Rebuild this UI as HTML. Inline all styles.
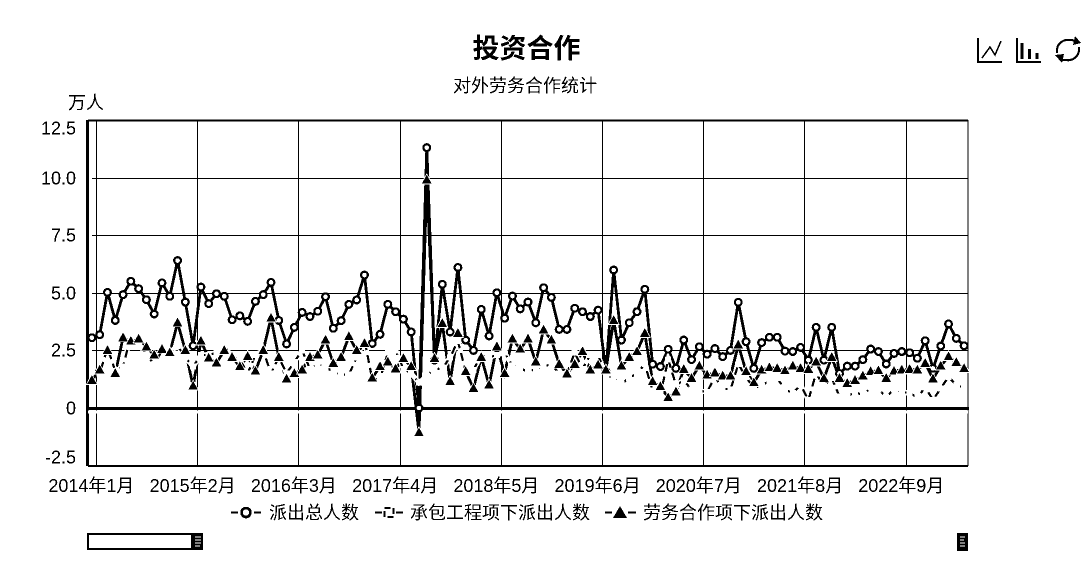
<!DOCTYPE html>
<html lang="zh">
<head>
<meta charset="utf-8">
<title>投资合作</title>
<style>
html,body{margin:0;padding:0;background:#fff;}
svg{display:block;}
text{font-family:"Liberation Sans","Noto Sans CJK SC",sans-serif;fill:#000;}
</style>
</head>
<body>
<svg id="chart" xmlns="http://www.w3.org/2000/svg" width="1091" height="563" viewBox="0 0 1091 563">
  <defs>
    <filter id="bw" filterUnits="userSpaceOnUse" x="0" y="0" width="1091" height="563" color-interpolation-filters="sRGB">
      <feComponentTransfer>
        <feFuncR type="discrete" tableValues="0 1"/>
        <feFuncG type="discrete" tableValues="0 1"/>
        <feFuncB type="discrete" tableValues="0 1"/>
      </feComponentTransfer>
    </filter>
  </defs>
  <g filter="url(#bw)">
  <rect x="0" y="0" width="1091" height="563" fill="#fff"/>
  <text x="526.500" y="58" font-size="27" font-weight="bold" text-anchor="middle">投资合作</text>
  <text x="525" y="92" font-size="18" text-anchor="middle">对外劳务合作统计</text>
  <text x="68" y="109" font-size="18">万人</text>

  <g id="plot"></g>

  <g font-size="18">
    <g>
      <path d="M231 512.5H238M254 512.5H261" stroke="#000" stroke-width="2" fill="none"/>
      <circle cx="246" cy="512.5" r="4.5" fill="#fff" stroke="#000" stroke-width="2.500"/>
      <text x="269" y="519">派出总人数</text>
    </g>
    <g>
      <path d="M375 512.5H382M396 512.5H403" stroke="#000" stroke-width="2" fill="none"/>
      <rect x="384.500" y="508" width="9" height="9" fill="#fff" stroke="#000" stroke-width="2" stroke-dasharray="6 3"/>
      <text x="410" y="519">承包工程项下派出人数</text>
    </g>
    <g>
      <path d="M605 512.5H612M628 512.5H636" stroke="#000" stroke-width="2" fill="none"/>
      <path d="M620 506L627 518H613Z" fill="#000"/>
      <text x="643" y="519">劳务合作项下派出人数</text>
    </g>
  </g>

  <g fill="none" stroke="#000" stroke-width="2">
    <g>
      <path d="M978 38V62H1002"/>
      <path d="M982 58L990 47L995 55L1001 41" stroke-width="1.500"/>
    </g>
    <g>
      <path d="M1017 38V62H1041"/>
      <path d="M1022 43V59M1029.500 49V59M1037 53V59" stroke-width="3"/>
    </g>
    <g>
      <path d="M1057 53C1056 43 1064 37 1076 41" stroke-width="2"/>
      <path d="M1079 47C1080 57 1072 63 1060 59" stroke-width="2"/>
      <path d="M1075 36L1081 43L1073 45Z" fill="#000" stroke="none"/>
      <path d="M1055 55L1064 54L1062 63Z" fill="#000" stroke="none"/>
    </g>
  </g>

  <g>
    <rect x="88" y="534" width="104" height="15" fill="#fff" stroke="#000" stroke-width="2"/>
    <rect x="192" y="533" width="11" height="17" fill="#000"/>
    <path d="M195 537H201M195 540H201M195 543H201M195 546H200" stroke="#fff" stroke-width="1.200"/>
    <rect x="957" y="533" width="11" height="18" fill="#000"/>
    <path d="M960 537H965M960 540H964M960 543H965M960 546H965" stroke="#fff" stroke-width="1.200"/>
  </g>
  </g>
</svg>
<script>
const categories = [
"2014年1月","2014年2月","2014年3月","2014年4月","2014年5月","2014年6月","2014年7月","2014年8月","2014年9月","2014年10月","2014年11月","2014年12月",
"2015年1月","2015年2月","2015年3月","2015年4月","2015年5月","2015年6月","2015年7月","2015年8月","2015年9月","2015年10月","2015年11月","2015年12月",
"2016年1月","2016年2月","2016年3月","2016年4月","2016年5月","2016年6月","2016年7月","2016年8月","2016年9月","2016年10月","2016年11月","2016年12月",
"2017年1月","2017年2月","2017年3月","2017年4月","2017年5月","2017年6月","2017年7月","2017年8月","2017年9月","2017年10月","2017年11月","2017年12月",
"2018年1月","2018年2月","2018年3月","2018年4月","2018年5月","2018年6月","2018年7月","2018年8月","2018年9月","2018年10月","2018年11月","2018年12月",
"2019年1月","2019年2月","2019年3月","2019年4月","2019年5月","2019年6月","2019年7月","2019年8月","2019年9月","2019年10月","2019年11月","2019年12月",
"2020年1月","2020年2月","2020年3月","2020年4月","2020年5月","2020年6月","2020年7月","2020年8月","2020年9月","2020年10月","2020年11月","2020年12月",
"2021年1月","2021年2月","2021年3月","2021年4月","2021年5月","2021年6月","2021年7月","2021年8月","2021年9月","2021年10月","2021年11月","2021年12月",
"2022年1月","2022年2月","2022年3月","2022年4月","2022年5月","2022年6月","2022年7月","2022年8月","2022年9月","2022年10月","2022年11月","2022年12月",
"2023年1月","2023年2月","2023年3月","2023年4月","2023年5月"];
const totalDispatched = [3.05,3.18,5.02,3.8,4.92,5.5,5.18,4.7,4.08,5.43,4.85,6.4,4.6,2.7,5.25,4.53,4.96,4.85,3.83,4.0,3.76,4.63,4.92,5.45,3.8,2.78,3.5,4.15,3.97,4.2,4.83,3.46,3.79,4.5,4.69,5.77,2.8,3.2,4.5,4.18,3.86,3.3,0.0,11.3,2.08,5.37,3.3,6.1,2.95,2.5,4.28,3.13,5.0,3.9,4.86,4.3,4.6,3.7,5.22,4.8,3.41,3.41,4.33,4.18,3.97,4.25,1.6,5.99,2.95,3.7,4.18,5.15,1.9,1.8,2.55,1.72,2.95,2.1,2.66,2.34,2.58,2.23,2.5,4.59,2.88,1.72,2.84,3.07,3.07,2.47,2.45,2.63,2.08,3.5,2.08,3.5,1.5,1.82,1.82,2.1,2.56,2.45,1.91,2.37,2.45,2.4,2.16,2.92,1.72,2.69,3.65,3.02,2.7];
const contractDispatched = [1.7,1.5,2.6,1.6,1.8,3.1,2.8,2.3,1.9,2.5,2.4,2.7,2.2,1.8,2.3,2.3,2.4,2.7,2.2,2.1,1.5,2.3,2.5,1.5,2.2,1.5,2.0,2.5,1.7,1.9,1.75,1.6,1.45,1.45,2.2,2.95,1.25,1.25,2.4,2.5,1.7,1.5,1.1,1.4,1.7,1.7,2.2,2.9,1.6,1.65,2.3,2.2,2.3,2.4,1.85,1.75,1.55,1.7,1.8,1.9,1.5,1.5,2.4,1.7,2.3,2.3,1.4,1.3,1.05,1.3,1.5,1.9,0.75,0.6,2.1,1.0,1.2,0.8,0.75,0.7,1.35,0.85,0.8,1.9,1.35,0.85,1.0,1.15,1.3,0.8,0.65,1.0,0.35,1.5,0.95,1.3,0.5,0.5,0.7,0.55,0.9,0.8,0.5,0.8,0.7,0.65,0.45,0.9,0.35,0.85,1.35,1.0,0.9];
const laborDispatched = [1.2,1.65,2.5,1.5,3.05,2.9,3.0,2.65,2.3,2.55,2.4,3.7,2.5,0.95,2.9,2.17,1.95,2.5,2.2,1.8,2.24,1.6,2.5,3.9,2.2,1.26,1.5,1.65,2.2,2.3,2.95,1.94,2.2,3.1,2.5,2.8,1.3,1.8,2.0,1.7,2.15,1.8,-1.07,9.9,2.15,3.67,1.15,3.24,1.58,0.85,2.2,1.0,2.66,1.5,3.0,2.56,3.0,2.0,3.39,2.95,1.9,1.48,1.9,2.45,1.65,1.87,1.65,3.8,1.82,2.2,2.45,3.24,1.15,0.93,0.45,0.7,1.68,1.29,1.82,1.43,1.53,1.39,1.39,2.74,1.58,1.1,1.65,1.75,1.72,1.62,1.82,1.72,1.68,2.0,1.29,2.2,1.29,1.07,1.2,1.39,1.58,1.62,1.29,1.6,1.65,1.68,1.65,1.94,1.26,1.82,2.23,1.98,1.72];
const yTicks = [-2.5,0,2.5,5,7.5,10,12.5];
const yTickLabels = ["-2.5","0","2.5","5.0","7.5","10.0","12.5"];
const X_LABEL_EVERY = 13;

const SVGNS = "http://www.w3.org/2000/svg";
const plot = document.getElementById("plot");
const plotLeft = 88, plotRight = 968, plotTop = 120, plotBottom = 466;
const bandWidth = (plotRight - plotLeft) / categories.length;
function xCenter(i){ return plotLeft + bandWidth * (i + 0.5); }
function xEdge(i){ return plotLeft + bandWidth * i; }
function yScale(v){ return 408 - v * 23.04; }
function make(tag, attrs, parent){
  const el = document.createElementNS(SVGNS, tag);
  for (const k in attrs) el.setAttribute(k, attrs[k]);
  (parent || plot).appendChild(el);
  return el;
}
function seriesPoints(values){
  return values.map(function(v, i){ return xCenter(i).toFixed(1) + "," + yScale(v).toFixed(1); }).join(" ");
}

// horizontal gridlines and y tick labels (outermost labels sit inside the plot range)
yTicks.forEach(function(t, i){
  const y = Math.round(yScale(t)) + 0.5;
  if (t !== 0) {
    const g = make("line", {x1: plotLeft + 4, x2: plotRight, y1: y, y2: y, stroke: "#000", "stroke-width": 1});
    
    
  }
  const inset = i === yTicks.length - 1 ? 8 : (i === 0 ? -9 : 0);
  const lab = make("text", {x: 76, y: y + 6 + inset, "font-size": 18, "text-anchor": "end"});
  lab.textContent = yTickLabels[i];
  
  
});

// vertical gridlines and x tick labels
for (let i = 0; i < categories.length; i += X_LABEL_EVERY) {
  const x = Math.round(xEdge(i + 1)) + 0.5;
  const g = make("line", {x1: x, x2: x, y1: plotTop, y2: plotBottom, stroke: "#000", "stroke-width": 1});
  
  
  const lab = make("text", {x: xCenter(i) - 0.5, y: 492, "font-size": 18, "text-anchor": "middle"});
  lab.textContent = categories[i];
  
  
}

// frame and axes
const frameTop = make("line", {x1: plotLeft, x2: plotRight, y1: plotTop + 0.5, y2: plotTop + 0.5, stroke: "#000", "stroke-width": 2});


const frameRight = make("line", {x1: plotRight, x2: plotRight, y1: plotTop, y2: plotBottom, stroke: "#000", "stroke-width": 1});


const frameBottom = make("line", {x1: plotLeft, x2: plotRight, y1: plotBottom, y2: plotBottom, stroke: "#000", "stroke-width": 2});


const yAxisLine = make("line", {x1: plotLeft - 0.5, x2: plotLeft - 0.5, y1: plotTop, y2: plotBottom, stroke: "#000", "stroke-width": 3});


const zeroHalo = make("line", {x1: plotLeft, x2: plotRight, y1: yScale(0) + 4, y2: yScale(0) + 4, stroke: "#fff", "stroke-width": 3});


const zeroLine = make("line", {x1: plotLeft, x2: plotRight + 1, y1: yScale(0) + 0.5, y2: yScale(0) + 0.5, stroke: "#000", "stroke-width": 3});



// series lines: total, labor, then the contract line whose white halo cuts through them
const lineTotal = make("polyline", {points: seriesPoints(totalDispatched), fill: "none", stroke: "#000", "stroke-width": 2.8, "stroke-linejoin": "miter"});


const lineLabor = make("polyline", {points: seriesPoints(laborDispatched), fill: "none", stroke: "#000", "stroke-width": 2.8});


const haloContract = make("polyline", {points: seriesPoints(contractDispatched), fill: "none", stroke: "#fff", "stroke-width": 5});


const lineContract = make("polyline", {points: seriesPoints(contractDispatched), fill: "none", stroke: "#000", "stroke-width": 2.2, "stroke-dasharray": "8 5"});



// markers
totalDispatched.forEach(function(v, i){
  const c = make("circle", {cx: xCenter(i), cy: yScale(v), r: 3.4, fill: "#fff", stroke: "#000", "stroke-width": 2.2});
  
  
});
contractDispatched.forEach(function(v, i){
  const s = make("rect", {x: xCenter(i) - 3, y: yScale(v) - 3, width: 6, height: 6, fill: "#fff"});
  
  
});
laborDispatched.forEach(function(v, i){
  const cx = xCenter(i), cy = yScale(v);
  const d = "M" + cx + " " + (cy - 6) + "L" + (cx + 5.5) + " " + (cy + 4) + "L" + (cx - 5.5) + " " + (cy + 4) + "Z";
  const t = make("path", {d: d, fill: "#000", stroke: "#fff", "stroke-width": 0.8});
  
  
});
</script>
</body>
</html>
